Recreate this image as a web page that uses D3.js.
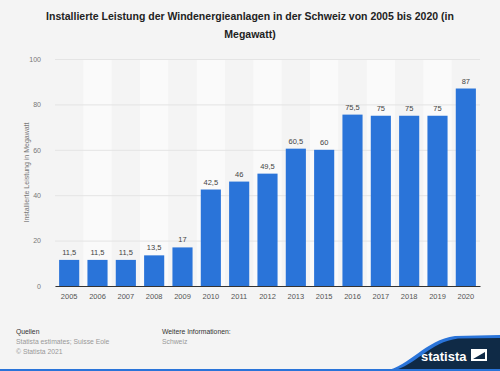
<!DOCTYPE html>
<html>
<head>
<meta charset="utf-8">
<script src="https://cdn.jsdelivr.net/npm/d3@7"></script>
<style>
  body { margin: 0; background: #f4f4f4; }
  svg { display: block; font-family: "Liberation Sans", Arial, sans-serif; }
</style>
</head>
<body>
<div id="chart"></div>
<script>
// data
var years = ["2005", "2006", "2007", "2008", "2009", "2010", "2011", "2012", "2013", "2015", "2016", "2017", "2018", "2019", "2020"];
var leistung = [11.5, 11.5, 11.5, 13.5, 17, 42.5, 46, 49.5, 60.5, 60, 75.5, 75, 75, 75, 87];
var yTicks = [0, 20, 40, 60, 80, 100];

var W = 500, H = 371;
var margin = { top: 59, right: 20, bottom: 85, left: 55 },
  width = W - margin.left - margin.right,
  height = H - margin.top - margin.bottom;

var svg = d3.select("#chart")
  .append("svg")
  .attr("width", W)
  .attr("height", H);

svg.append("rect").attr("width", W).attr("height", H).attr("fill", "#f4f4f4");

// title
var title = svg.append("text")
  .attr("text-anchor", "middle")
  .attr("font-size", "10.5px")
  .attr("font-weight", "bold")
  .attr("fill", "#222");
title.append("tspan").attr("x", 250).attr("y", 20)
  .text("Installierte Leistung der Windenergieanlagen in der Schweiz von 2005 bis 2020 (in");
title.append("tspan").attr("x", 250).attr("y", 38).text("Megawatt)");

var g = svg.append("g")
  .attr("transform", "translate(" + margin.left + "," + margin.top + ")");

var x = d3.scaleBand()
  .domain(years)
  .range([0, width])
  .paddingInner(0.29)
  .paddingOuter(0.145);

var y = d3.scaleLinear()
  .domain([0, 100])
  .range([height, 0]);

// alternating column bands
var step = x.step();
g.selectAll(".band")
  .data(years.filter(function (d, i) { return i % 2 == 1; }))
  .enter()
  .append("rect")
    .attr("x", function (d) { return x(d) - step * 0.145; })
    .attr("y", 0)
    .attr("width", step)
    .attr("height", height)
    .attr("fill", "#fafafa");

// grid + y labels
var yAxis = g.append("g")
  .call(d3.axisLeft(y).tickValues(yTicks).tickSize(-width).tickPadding(14).tickFormat(d3.format("d")));
yAxis.select(".domain").remove();
yAxis.selectAll(".tick line").attr("stroke", "#e4e4e4").attr("stroke-width", 1);
yAxis.selectAll(".tick text").attr("fill", "#777").attr("font-size", "7px").attr("font-family", "Liberation Sans, Arial, sans-serif");

// bars
g.selectAll(".bar")
  .data(leistung)
  .enter()
  .append("rect")
    .attr("x", function (d, i) { return x(years[i]); })
    .attr("y", function (d) { return y(d); })
    .attr("width", x.bandwidth())
    .attr("height", function (d) { return height - y(d); })
    .attr("fill", "#2a74d9");

// value labels
g.selectAll(".lbl")
  .data(leistung)
  .enter()
  .append("text")
    .attr("x", function (d, i) { return x(years[i]) + x.bandwidth() / 2; })
    .attr("y", function (d) { return y(d) - 5; })
    .attr("text-anchor", "middle")
    .attr("font-size", "7.5px")
    .attr("fill", "#444")
    .text(function (d) { return String(d).replace(".", ","); });

// x axis
var xAxis = g.append("g")
  .attr("transform", "translate(0," + height + ")")
  .call(d3.axisBottom(x).tickSize(0).tickPadding(8));
xAxis.select(".domain").attr("stroke", "#333").attr("stroke-width", 1);
xAxis.selectAll(".tick text").attr("fill", "#555").attr("font-size", "7.5px").attr("font-family", "Liberation Sans, Arial, sans-serif");

// axis title
svg.append("text")
  .attr("transform", "translate(29," + (margin.top + height / 2) + ") rotate(-90)")
  .attr("text-anchor", "middle")
  .attr("font-size", "7px")
  .attr("fill", "#777")
  .text("Installierte Leistung in Megawatt");

// footer
var foot = svg.append("g").attr("font-size", "6.8px");
foot.append("text").attr("x", 16).attr("y", 334).attr("fill", "#333").text("Quellen");
foot.append("text").attr("x", 16).attr("y", 344).attr("fill", "#999").text("Statista estimates; Suisse Eole");
foot.append("text").attr("x", 16).attr("y", 354).attr("fill", "#999").text("© Statista 2021");
foot.append("text").attr("x", 162).attr("y", 334).attr("fill", "#333").text("Weitere Informationen:");
foot.append("text").attr("x", 162).attr("y", 344).attr("fill", "#999").text("Schweiz");

// statista logo corner
svg.append("path")
  .attr("d", "M385,371 C410,366 425,340 455,336 L500,335 L500,371 Z")
  .attr("fill", "#2a74d9");
svg.append("path")
  .attr("d", "M392,371 C415,366 430,342 458,338.5 L500,338 L500,371 Z")
  .attr("fill", "#0f2a46");
svg.append("rect").attr("x", 0).attr("y", 369).attr("width", W).attr("height", 2).attr("fill", "#2a74d9");
svg.append("text")
  .attr("x", 421).attr("y", 361)
  .attr("font-size", "13px")
  .attr("font-weight", "bold")
  .attr("fill", "#fff")
  .text("statista");
svg.append("path")
  .attr("d", "M471,349 L487,349 L487,361 L471,361 Z M473,359 L485,352 L485,359 Z")
  .attr("fill", "#fff")
  .attr("fill-rule", "evenodd");
</script>
</body>
</html>
